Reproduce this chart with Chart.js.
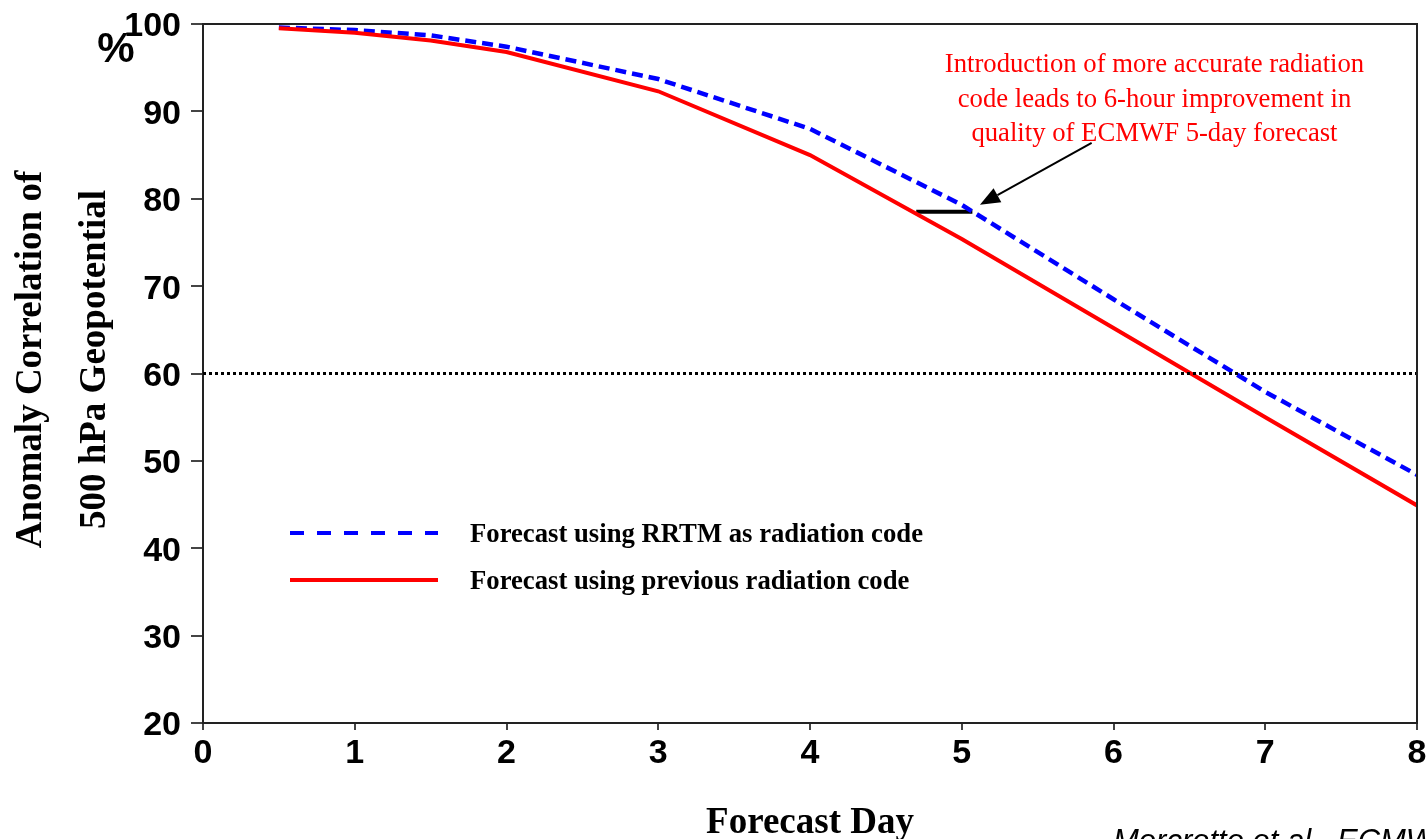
<!DOCTYPE html>
<html>
<head>
<meta charset="utf-8">
<title>Anomaly Correlation of 500 hPa Geopotential</title>
<script src="https://cdn.jsdelivr.net/npm/chart.js@4/dist/chart.umd.min.js"></script>
<style>
  html, body { margin: 0; padding: 0; background: #fff; }
  #wrap { width: 1427px; height: 839px; position: relative; }
</style>
</head>
<body>
<div id="wrap"><canvas id="acChart"></canvas></div>
<script>
// Forecast day and anomaly correlation (%) for the two radiation schemes
const days = [0.5, 1, 1.5, 2, 3, 4, 5, 6, 7, 8];
const rrtmScores = [99.6, 99.3, 98.7, 97.4, 93.7, 88.0, 79.3, 68.5, 57.9, 48.4];
const previousScores = [99.5, 99.0, 98.1, 96.8, 92.3, 85.0, 75.4, 65.2, 55.0, 44.9];

const xTicks = [0, 1, 2, 3, 4, 5, 6, 7, 8];
const yTicks = [20, 30, 40, 50, 60, 70, 80, 90, 100];

// Useful-forecast threshold
const usefulLevel = 60;

// 6-hour gain marker: from the old curve to the RRTM curve at the same score
const gainDays = [4.70, 5.07];
const gainScore = 78.5;

// Arrow from the note to the marker
const arrowFrom = [5.856, 86.4];
const arrowTo = [5.12, 79.3];

const noteLines = [
    'Introduction of more accurate radiation',
    'code leads to 6-hour improvement in',
    'quality of ECMWF 5-day forecast'
];
const noteAnchor = [6.27, 95.3];

const yTitleLines = ['Anomaly Correlation of', '500 hPa Geopotential'];

const legendItems = [
    { label: 'Forecast using RRTM as radiation code', color: '#0000ff', dash: [14, 13] },
    { label: 'Forecast using previous radiation code', color: '#ff0000', dash: [] }
];

const pairs = (xs, ys) => xs.map((x, i) => ({ x: x, y: ys[i] }));

// Frame, note, arrow, legend and the corner labels
const overlay = {
    id: 'overlay',
    afterDatasetsDraw(chart) {
        const ctx = chart.ctx;
        const area = chart.chartArea;
        const xs = chart.scales.x, ys = chart.scales.y;
        ctx.save();

        // top and right frame
        ctx.strokeStyle = '#222';
        ctx.lineWidth = 2;
        ctx.beginPath();
        ctx.moveTo(area.left, area.top);
        ctx.lineTo(area.right, area.top);
        ctx.lineTo(area.right, area.bottom);
        ctx.stroke();

        // note text
        ctx.fillStyle = '#ff0000';
        ctx.font = '26.7px "Liberation Serif", "Times New Roman", serif';
        ctx.textAlign = 'center';
        ctx.textBaseline = 'middle';
        const nx = xs.getPixelForValue(noteAnchor[0]);
        const ny = ys.getPixelForValue(noteAnchor[1]);
        noteLines.forEach((t, i) => ctx.fillText(t, nx, ny + i * 34.5));

        // arrow
        const ax0 = xs.getPixelForValue(arrowFrom[0]), ay0 = ys.getPixelForValue(arrowFrom[1]);
        const ax1 = xs.getPixelForValue(arrowTo[0]), ay1 = ys.getPixelForValue(arrowTo[1]);
        const ang = Math.atan2(ay1 - ay0, ax1 - ax0);
        const headLen = 20, headHalf = 8;
        const bx = ax1 - headLen * Math.cos(ang), by = ay1 - headLen * Math.sin(ang);
        ctx.strokeStyle = '#000';
        ctx.lineWidth = 2;
        ctx.beginPath();
        ctx.moveTo(ax0, ay0);
        ctx.lineTo(bx, by);
        ctx.stroke();
        ctx.fillStyle = '#000';
        ctx.beginPath();
        ctx.moveTo(ax1, ay1);
        ctx.lineTo(bx + headHalf * Math.sin(ang), by - headHalf * Math.cos(ang));
        ctx.lineTo(bx - headHalf * Math.sin(ang), by + headHalf * Math.cos(ang));
        ctx.closePath();
        ctx.fill();

        // legend
        ctx.font = 'bold 26.7px "Liberation Serif", "Times New Roman", serif';
        ctx.textAlign = 'left';
        ctx.fillStyle = '#000';
        legendItems.forEach((item, i) => {
            const y = area.top + 509 + i * 47;
            ctx.strokeStyle = item.color;
            ctx.lineWidth = 4;
            ctx.setLineDash(item.dash);
            ctx.beginPath();
            ctx.moveTo(area.left + 87, y);
            ctx.lineTo(area.left + 235, y);
            ctx.stroke();
            ctx.setLineDash([]);
            ctx.fillText(item.label, area.left + 267, y + 2);
        });
        ctx.restore();
    },
    afterDraw(chart) {
        const ctx = chart.ctx;
        const area = chart.chartArea;
        ctx.save();
        ctx.fillStyle = '#000';

        // two-line y axis title, centred a little above the plot middle
        ctx.font = 'bold 37px "Liberation Serif", "Times New Roman", serif';
        ctx.textAlign = 'center';
        ctx.textBaseline = 'middle';
        yTitleLines.forEach((t, i) => {
            ctx.save();
            ctx.translate(31 + i * 64, (area.top + area.bottom) / 2 - 14);
            ctx.rotate(-Math.PI / 2);
            ctx.fillText(t, 0, 0);
            ctx.restore();
        });

        ctx.font = 'bold 42px "Liberation Sans", Arial, sans-serif';
        ctx.fillText('%', 116, 50);

        ctx.font = 'italic 31px "Liberation Sans", Arial, sans-serif';
        ctx.textAlign = 'left';
        ctx.textBaseline = 'alphabetic';
        ctx.fillText('Morcrette et al., ECMWF', 1113, 851);
        ctx.restore();
    }
};

const ctx = document.getElementById('acChart').getContext('2d');
const acChart = new Chart(ctx, {
    type: 'line',
    data: {
        datasets: [
            {
                label: 'useful level',
                data: [{ x: xTicks[0], y: usefulLevel }, { x: xTicks[xTicks.length - 1], y: usefulLevel }],
                borderColor: '#000',
                borderWidth: 3,
                borderDash: [3, 3],
                pointRadius: 0
            },
            {
                label: 'Forecast using previous radiation code',
                data: pairs(days, previousScores),
                borderColor: '#ff0000',
                borderWidth: 4,
                pointRadius: 0,
                tension: 0
            },
            {
                label: 'Forecast using RRTM as radiation code',
                data: pairs(days, rrtmScores),
                borderColor: '#0000ff',
                borderWidth: 4.5,
                borderDash: [11, 6],
                pointRadius: 0,
                tension: 0
            },
            {
                label: '6-hour gain',
                data: gainDays.map(d => ({ x: d, y: gainScore })),
                borderColor: '#000',
                borderWidth: 4,
                pointRadius: 0
            }
        ]
    },
    options: {
        responsive: true,
        maintainAspectRatio: false,
        animation: false,
        layout: { padding: { top: 24, right: 10, left: 0, bottom: 0 } },
        plugins: {
            legend: { display: false },
            tooltip: { enabled: false }
        },
        scales: {
            x: {
                type: 'linear',
                min: 0,
                max: 8,
                afterBuildTicks: s => { s.ticks = xTicks.map(v => ({ value: v })); },
                afterFit: s => {
                    s.height = 116;
                    s.paddingLeft = 0;
                    s.paddingRight = 0;
                },
                ticks: {
                    color: '#000',
                    padding: 7,
                    maxRotation: 0,
                    font: { family: '"Liberation Sans", Arial, sans-serif', size: 34, weight: 'bold', lineHeight: 1 }
                },
                grid: { drawOnChartArea: false, tickLength: 7, color: '#444', lineWidth: 2 },
                border: { color: '#222', width: 2 },
                title: {
                    display: true,
                    text: 'Forecast Day',
                    color: '#000',
                    padding: { top: 0, bottom: 0 },
                    font: { family: '"Liberation Serif", "Times New Roman", serif', size: 37, weight: 'bold', lineHeight: '32px' }
                }
            },
            y: {
                min: 20,
                max: 100,
                afterBuildTicks: s => { s.ticks = yTicks.map(v => ({ value: v })); },
                afterFit: s => {
                    s.width = 203;
                    s.paddingTop = 0;
                    s.paddingBottom = 0;
                },
                ticks: {
                    color: '#000',
                    padding: 10,
                    labelOffset: 3,
                    font: { family: '"Liberation Sans", Arial, sans-serif', size: 34, weight: 'bold', lineHeight: 1 }
                },
                grid: { drawOnChartArea: false, tickLength: 12, color: '#444', lineWidth: 2 },
                border: { color: '#222', width: 2 },
                title: { display: false }
            }
        }
    },
    plugins: [overlay]
});
</script>
</body>
</html>
